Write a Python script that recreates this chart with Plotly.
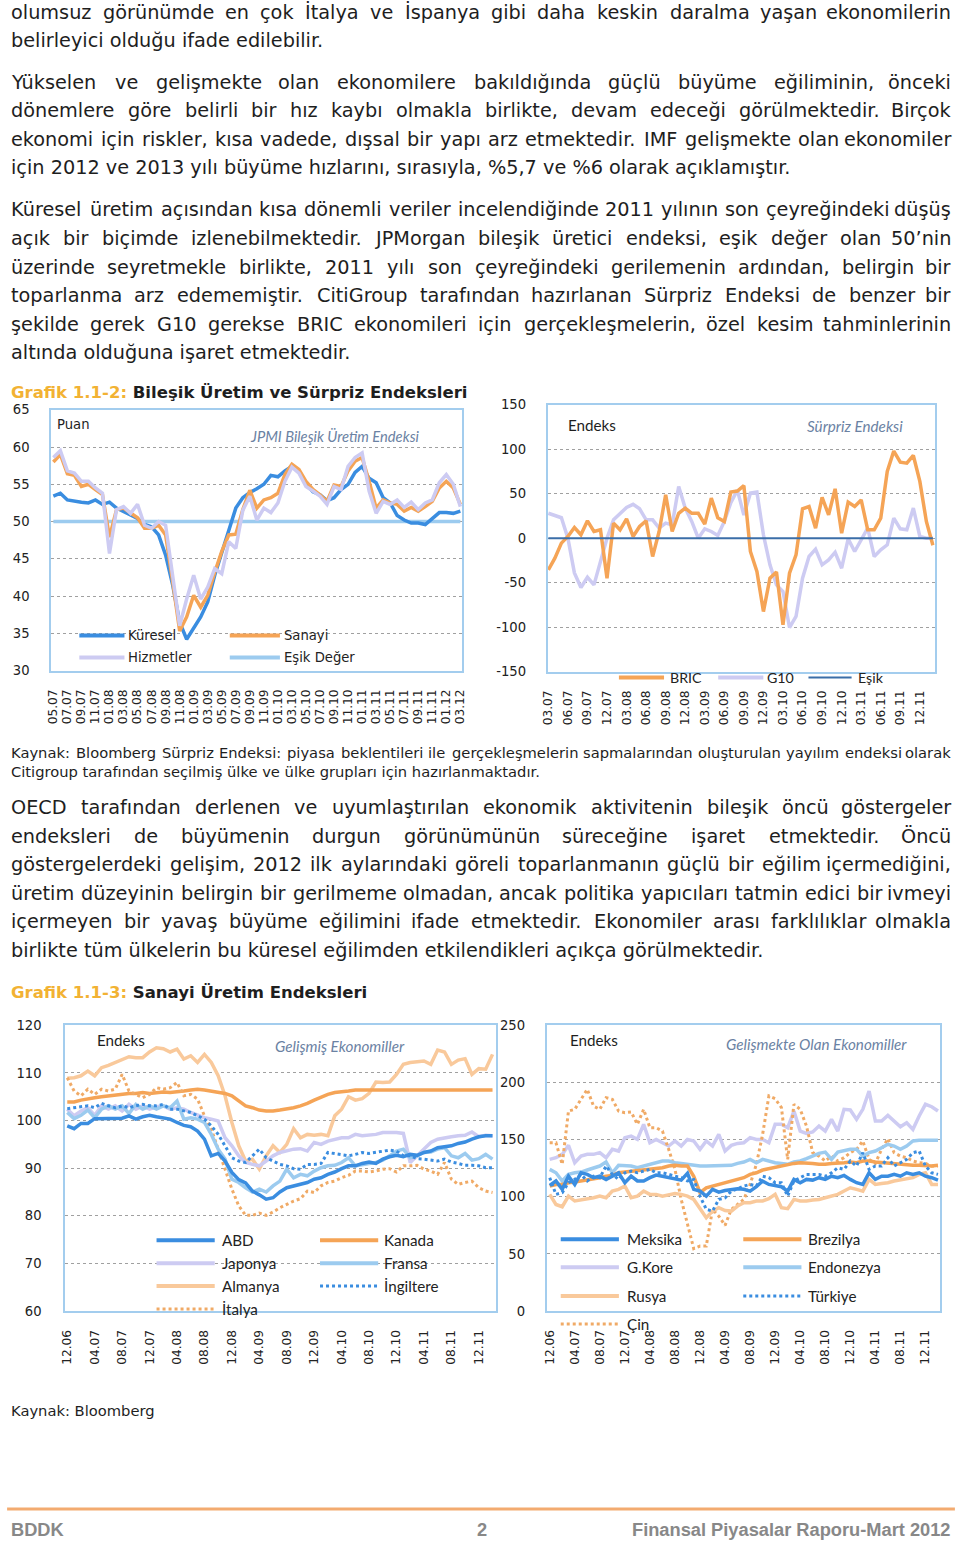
import plotly.graph_objects as go

W, H = 960, 1542
BODY = "DejaVu Sans"
CHART = "Lato"
TEXT_COLOR = "#1e1e1e"

# ---------------- text content ----------------
para1 = [
    "olumsuz görünümde en çok İtalya ve İspanya gibi daha keskin daralma yaşan ekonomilerin",
    "belirleyici olduğu ifade edilebilir.",
]
para2 = [
    "Yükselen ve gelişmekte olan ekonomilere bakıldığında güçlü büyüme eğiliminin, önceki",
    "dönemlere göre belirli bir hız kaybı olmakla birlikte, devam edeceği görülmektedir. Birçok",
    "ekonomi için riskler, kısa vadede, dışsal bir yapı arz etmektedir. IMF gelişmekte olan ekonomiler",
    "için 2012 ve 2013 yılı büyüme hızlarını, sırasıyla, %5,7 ve %6 olarak açıklamıştır.",
]
para3 = [
    "Küresel üretim açısından kısa dönemli veriler incelendiğinde 2011 yılının son çeyreğindeki düşüş",
    "açık bir biçimde izlenebilmektedir. JPMorgan bileşik üretici endeksi, eşik değer olan 50’nin",
    "üzerinde seyretmekle birlikte, 2011 yılı son çeyreğindeki gerilemenin ardından, belirgin bir",
    "toparlanma arz edememiştir. CitiGroup tarafından hazırlanan Sürpriz Endeksi de benzer bir",
    "şekilde gerek G10 gerekse BRIC ekonomileri için gerçekleşmelerin, özel kesim tahminlerinin",
    "altında olduğuna işaret etmektedir.",
]
caption1 = [
    "Kaynak: Bloomberg Sürpriz Endeksi: piyasa beklentileri ile gerçekleşmelerin sapmalarından oluşturulan yayılım endeksi olarak",
    "Citigroup tarafından seçilmiş ülke ve ülke grupları için hazırlanmaktadır.",
]
para4 = [
    "OECD tarafından derlenen ve uyumlaştırılan ekonomik aktivitenin bileşik öncü göstergeler",
    "endeksleri de büyümenin durgun görünümünün süreceğine işaret etmektedir. Öncü",
    "göstergelerdeki gelişim, 2012 ilk aylarındaki göreli toparlanmanın güçlü bir eğilim içermediğini,",
    "üretim düzeyinin belirgin bir gerilmeme olmadan, ancak politika yapıcıları tatmin edici bir ivmeyi",
    "içermeyen bir yavaş büyüme eğilimini ifade etmektedir. Ekonomiler arası farklılıklar olmakla",
    "birlikte tüm ülkelerin bu küresel eğilimden etkilendikleri açıkça görülmektedir.",
]
title1_a, title1_b = "Grafik 1.1-2:", "Bileşik Üretim ve Sürpriz Endeksleri"
title2_a, title2_b = "Grafik 1.1-3:", "Sanayi Üretim Endeksleri"
source2 = "Kaynak: Bloomberg"
footer_left, footer_mid, footer_right = "BDDK", "2", "Finansal Piyasalar Raporu-Mart 2012"

# ---------------- chart 1: JPMI composite ----------------
c1_ticks = ["05.07", "07.07", "09.07", "11.07", "01.08", "03.08", "05.08", "07.08", "09.08", "11.08",
            "01.09", "03.09", "05.09", "07.09", "09.09", "11.09", "01.10", "03.10", "05.10", "07.10",
            "09.10", "11.10", "01.11", "03.11", "05.11", "07.11", "09.11", "11.11", "01.12", "03.12"]
c1_kuresel = [53.4, 53.8, 52.9, 52.7, 52.6, 52.5, 52.9, 52.3, 52.6, 51.8,
              51.3, 50.8, 50.4, 49.6, 49.3, 48.2, 45.5, 41.5, 36.5, 34.2,
              35.6, 37.2, 39.2, 42.8, 45.8, 48.8, 51.8, 53.2, 53.9, 54.4,
              55.0, 56.2, 56.0, 56.8, 57.4, 56.8, 55.0, 54.0, 53.6, 52.8,
              53.2, 54.3, 55.0, 56.6, 57.4, 55.8, 55.2, 53.2, 52.5, 50.8,
              50.2, 49.8, 49.8, 49.6, 50.4, 51.2, 51.2, 51.1, 51.4]
c1_sanayi = [58.0, 59.0, 56.4, 56.2, 54.7, 55.0, 54.3, 53.6, 47.9, 51.6,
             51.8, 51.1, 50.5, 49.1, 49.1, 49.5, 48.2, 42.0, 35.3, 37.2,
             40.1, 38.5, 40.1, 43.2, 46.0, 48.2, 48.3, 51.6, 54.2, 51.8,
             52.9, 53.2, 53.8, 56.3, 57.7, 57.0, 55.4, 54.3, 53.6, 52.7,
             54.9, 54.7, 56.8, 58.1, 58.6, 55.4, 51.8, 52.9, 52.5, 52.3,
             51.4, 51.9, 51.4, 52.0, 52.7, 54.5, 55.4, 54.5, 52.3]
c1_hizmetler = [58.6, 59.5, 56.8, 56.5, 55.4, 55.4, 54.5, 53.8, 45.7, 51.6,
                52.0, 51.1, 52.3, 49.5, 49.1, 50.0, 49.5, 42.3, 36.0, 39.6,
                42.8, 39.6, 41.2, 43.7, 43.0, 47.3, 46.4, 51.5, 53.4, 50.2,
                51.8, 51.2, 52.5, 55.4, 57.3, 56.5, 54.7, 54.1, 53.4, 52.3,
                54.7, 54.3, 57.4, 58.6, 59.2, 54.1, 51.1, 52.7, 52.3, 52.9,
                51.9, 52.6, 51.6, 52.5, 52.9, 55.2, 56.3, 55.0, 52.0]
c1_esik = 50

# ---------------- chart 2: Citi surprise ----------------
c2_ticks = ["03.07", "06.07", "09.07", "12.07", "03.08", "06.08", "09.08", "12.08", "03.09", "06.09",
            "09.09", "12.09", "03.10", "06.10", "09.10", "12.10", "03.11", "06.11", "09.11", "12.11"]
c2_yticks = [-150, -100, -50, 0, 50, 100, 150]
c2_bric = [-35.6, -22.5, -5.6, 1.9, 12.0, 3.8, 19.5, 7.5, 9.4, -45.0,
           16.9, 9.4, 21.8, 1.9, 13.1, 19.5, -20.6, 7.5, 48.8, 7.5,
           28.0, 33.8, 28.0, 28.0, 15.8, 45.0, 23.0, 18.8, 51.8, 53.0,
           59.0, -15.0, -37.5, -82.5, -45.0, -38.0, -97.5, -39.4, -18.8, 33.0,
           35.6, 11.3, 45.8, 26.3, 55.5, 5.6, 40.5, 35.6, 43.0, 9.4,
           9.4, 22.5, 75.0, 98.0, 85.5, 84.4, 93.0, 63.8, 18.8, -8.0]
c2_g10 = [28.0, 25.5, 23.0, 0.0, -39.0, -55.5, -44.0, -52.5, -26.0, 0.0,
          20.6, 27.0, 34.5, 38.0, 33.0, 20.6, 20.6, 11.3, 17.0, 15.0,
          58.0, 33.8, 18.8, 0.0, 10.5, 7.5, 3.0, 18.8, 40.0, 54.0,
          26.0, 50.6, 51.8, 3.8, -30.0, -52.5, -60.0, -100.5, -88.0, -45.0,
          -20.6, -12.4, -30.0, -24.4, -15.8, -33.8, -0.8, -15.0, -1.9, 11.3,
          -20.6, -13.0, -7.5, 22.5, 10.5, 9.4, 33.8, 1.9, 0.0, 0.0]
c2_esik = 0

# ---------------- chart 3 & 4: industrial production ----------------
c34_ticks = ["12.06", "04.07", "08.07", "12.07", "04.08", "08.08", "12.08", "04.09", "08.09", "12.09",
             "04.10", "08.10", "12.10", "04.11", "08.11", "12.11"]
c3_abd = [98.9, 98.3, 99.4, 99.4, 100.4, 100.4, 100.4, 100.4, 100.5, 101.0,
          100.3, 100.8, 101.1, 100.8, 100.6, 100.3, 99.6, 99.0, 98.7, 97.8,
          96.1, 92.6, 93.1, 91.5, 89.1, 87.6, 86.9, 85.2, 84.4, 83.5,
          83.8, 85.0, 85.9, 86.3, 86.6, 87.0, 87.7, 88.0, 88.7, 89.2,
          89.9, 90.5, 90.5, 91.0, 91.3, 91.0, 91.9, 92.4, 92.7, 92.4,
          92.9, 92.7, 93.3, 93.6, 94.3, 94.5, 94.7, 95.2, 95.5, 96.1,
          96.6, 96.8, 96.8]
c3_japonya = [102.4, 101.0, 102.0, 102.7, 101.1, 103.1, 102.4, 103.1, 102.0, 103.4,
              102.4, 103.1, 102.4, 102.9, 103.1, 102.4, 102.7, 102.4, 101.7, 101.1,
              100.6, 100.3, 99.9, 96.4, 94.7, 92.6, 91.2, 90.8, 90.5, 91.5,
              92.6, 93.3, 93.6, 94.0, 94.1, 93.6, 95.4, 95.0, 95.7, 96.1,
              96.4, 96.4, 97.1, 96.8, 96.9, 97.1, 97.5, 97.5, 97.5, 97.3,
              91.2, 92.6, 94.0, 95.4, 96.1, 96.4, 96.6, 96.8, 96.9, 97.6,
              96.6, 96.9, 96.8]
c3_almanya = [108.9, 109.0, 109.4, 110.4, 109.4, 111.1, 111.6, 112.2, 112.7, 113.4,
              113.2, 113.2, 114.4, 115.3, 115.1, 114.4, 115.0, 112.9, 113.6, 112.2,
              113.9, 112.2, 109.4, 105.2, 99.6, 94.7, 91.5, 91.9, 89.8, 92.6,
              94.7, 93.3, 95.0, 98.3, 96.4, 97.1, 96.9, 97.1, 96.8, 101.0,
              102.4, 105.0, 104.3, 104.6, 105.7, 108.1, 108.0, 108.1, 109.7, 111.8,
              112.2, 112.3, 112.5, 111.8, 114.8, 114.4, 111.8, 112.7, 113.0, 109.7,
              110.9, 110.8, 113.9]
c3_italya = [109.0, 106.2, 105.2, 106.6, 105.5, 106.6, 106.2, 106.6, 109.7, 106.2,
             105.5, 104.8, 105.5, 106.9, 106.6, 106.9, 108.0, 105.2, 105.5, 104.5,
             101.0, 98.2, 94.0, 89.8, 85.6, 82.1, 80.1, 80.1, 80.6, 80.1,
             80.8, 81.7, 82.4, 83.1, 83.6, 85.2, 84.9, 86.3, 87.0, 87.3,
             88.0, 88.5, 89.4, 89.4, 89.2, 89.4, 89.8, 89.9, 89.2, 90.5,
             90.5, 90.6, 89.8, 89.4, 88.7, 91.2, 87.7, 86.6, 87.0, 87.3,
             85.9, 85.2, 84.9]
c3_kanada = [103.9, 103.9, 104.3, 104.6, 104.8, 105.0, 105.2, 105.3, 105.5, 105.7,
             105.7, 105.9, 105.7, 105.9, 106.0, 105.9, 106.0, 106.2, 106.4, 106.6,
             106.4, 106.2, 106.0, 105.7, 105.2, 104.1, 103.1, 102.7, 102.2, 102.0,
             102.0, 102.2, 102.4, 102.7, 103.1, 103.6, 104.3, 105.0, 105.5, 105.9,
             106.0, 106.2, 106.4, 106.4, 106.4, 106.4, 106.4, 106.4, 106.4, 106.4,
             106.4, 106.4, 106.4, 106.4, 106.4, 106.4, 106.4, 106.4, 106.4, 106.4,
             106.4, 106.4, 106.4]
c3_fransa = [101.7, 100.4, 101.1, 102.2, 100.6, 102.4, 103.1, 102.4, 103.1, 101.5,
             103.4, 102.4, 103.1, 102.4, 103.1, 102.7, 104.1, 100.3, 100.6, 100.3,
             99.6, 97.1, 94.0, 91.9, 87.7, 87.0, 85.9, 85.0, 85.6, 85.0,
             86.3, 87.3, 89.8, 88.0, 88.7, 88.4, 89.4, 90.1, 90.5, 90.6,
             91.2, 92.2, 90.5, 90.8, 91.0, 91.2, 91.7, 92.6, 93.6, 94.0,
             92.2, 92.6, 93.3, 93.4, 94.0, 94.3, 92.6, 92.2, 93.1, 91.7,
             92.0, 92.9, 91.9]
c3_ingiltere = [102.5, 102.7, 102.9, 103.1, 102.7, 103.6, 103.1, 102.7, 103.1, 102.7,
                103.1, 103.4, 103.1, 103.1, 103.4, 102.4, 102.4, 102.0, 101.7, 101.0,
                100.3, 98.9, 97.1, 94.7, 92.2, 91.5, 91.2, 92.6, 94.0, 92.2,
                91.5, 90.8, 90.5, 89.9, 89.8, 90.8, 90.8, 91.0, 93.3, 93.1,
                92.9, 92.6, 92.9, 93.3, 93.1, 93.3, 93.6, 93.8, 93.6, 92.6,
                92.6, 92.0, 91.9, 91.7, 91.5, 91.9, 91.3, 91.0, 90.6, 90.6,
                90.5, 90.1, 90.1]

c4_meksika = [110.0, 113.8, 106.5, 118.0, 110.8, 121.0, 119.6, 116.7, 118.0, 115.2,
              118.0, 121.0, 112.3, 118.0, 113.8, 113.8, 116.7, 119.0, 118.0, 116.7,
              115.2, 114.6, 120.5, 106.5, 105.0, 100.6, 106.5, 104.1, 105.5, 106.5,
              107.0, 106.5, 105.0, 108.8, 113.8, 110.8, 110.0, 108.8, 105.0, 115.2,
              112.3, 115.2, 114.6, 116.7, 115.2, 118.0, 116.7, 118.7, 115.2, 112.3,
              110.8, 121.0, 115.2, 118.0, 118.0, 119.6, 118.0, 121.0, 119.6, 121.0,
              118.0, 116.7, 114.6]
c4_gkore = [132.7, 134.2, 137.1, 145.0, 129.8, 135.6, 137.1, 137.1, 138.6, 134.2,
            141.5, 140.0, 151.7, 153.1, 150.2, 163.4, 147.3, 150.2, 147.3, 144.4,
            148.8, 144.4, 150.2, 148.8, 141.5, 148.8, 144.4, 154.6, 140.0, 145.0,
            146.7, 147.3, 151.7, 150.2, 150.2, 147.3, 163.4, 163.4, 160.4, 175.0,
            157.5, 155.5, 156.7, 161.9, 157.5, 167.7, 157.5, 176.5, 175.9, 167.7,
            176.5, 192.5, 166.3, 166.3, 171.2, 166.3, 161.3, 164.8, 159.0, 170.7,
            180.9, 178.8, 175.0]
c4_rusya = [102.1, 93.3, 91.3, 100.6, 96.3, 97.1, 97.7, 99.2, 100.6, 99.2,
            105.0, 106.5, 109.4, 99.2, 100.6, 105.0, 102.1, 102.1, 100.6, 102.1,
            102.9, 102.1, 100.6, 97.7, 89.0, 81.7, 87.5, 90.4, 88.0, 87.5,
            91.9, 94.8, 94.8, 96.3, 96.3, 98.3, 102.1, 90.4, 89.6, 97.7,
            96.3, 96.3, 97.1, 97.7, 99.2, 100.6, 102.1, 105.0, 107.9, 106.5,
            105.0, 115.2, 110.8, 111.7, 112.3, 113.8, 114.6, 115.2, 116.7, 119.6,
            121.0, 110.8, 110.8]
c4_cin = [147.3, 147.3, 128.4, 175.0, 176.5, 185.2, 194.0, 179.4, 176.5, 186.7,
          185.2, 175.0, 173.6, 174.2, 163.4, 176.5, 160.4, 160.4, 157.5, 141.5,
          124.0, 97.7, 77.3, 54.6, 56.9, 56.9, 88.9, 83.1, 75.0, 89.0,
          93.3, 97.7, 110.8, 128.4, 154.6, 188.2, 185.8, 178.0, 132.7, 180.9,
          176.5, 161.9, 138.6, 135.6, 131.3, 135.6, 131.3, 134.2, 138.6, 141.5,
          148.8, 132.7, 129.2, 141.5, 150.8, 138.6, 135.6, 134.2, 131.3, 129.8,
          129.2, 126.9, 126.9]
c4_brezilya = [109.4, 110.8, 110.8, 112.3, 112.9, 113.8, 114.6, 115.2, 116.7, 118.0,
               118.7, 121.0, 121.6, 122.5, 123.4, 124.0, 124.6, 124.6, 125.4, 126.9,
               127.5, 126.9, 126.9, 118.0, 103.6, 107.9, 109.4, 110.8, 112.6, 113.8,
               115.2, 116.7, 119.6, 121.0, 123.4, 124.6, 125.4, 126.9, 127.5, 129.2,
               129.8, 129.8, 129.2, 128.4, 128.4, 129.2, 129.2, 129.8, 130.4, 129.8,
               131.3, 131.3, 130.4, 129.8, 129.8, 129.2, 128.4, 127.5, 127.5, 127.5,
               126.9, 126.9, 127.5]
c4_endonezya = [124.0, 121.0, 113.8, 119.6, 121.0, 121.6, 123.4, 125.4, 126.9, 130.4,
                121.0, 127.5, 127.5, 126.9, 125.4, 126.9, 128.4, 129.2, 131.3, 131.3,
                129.8, 129.2, 128.4, 127.5, 126.9, 126.9, 126.9, 127.5, 127.6, 127.5,
                129.2, 130.4, 132.7, 129.8, 132.7, 131.3, 129.8, 129.2, 128.4, 130.4,
                131.3, 133.3, 135.6, 138.0, 139.1, 132.7, 139.1, 140.0, 141.5, 141.5,
                135.6, 138.6, 140.0, 142.9, 145.9, 144.4, 141.5, 144.4, 148.8, 149.4,
                149.4, 149.4, 149.4]
c4_turkiye = [116.7, 102.1, 103.6, 112.3, 115.2, 119.6, 113.8, 118.0, 116.7, 126.9,
              119.6, 115.2, 121.0, 122.5, 121.0, 122.5, 124.0, 121.0, 121.0, 119.6,
              118.0, 116.7, 113.8, 115.2, 100.6, 89.0, 87.5, 97.7, 99.0, 105.0,
              107.0, 109.4, 110.8, 109.4, 118.0, 116.7, 112.3, 112.3, 100.6, 113.8,
              116.7, 119.6, 119.6, 119.6, 118.0, 121.0, 125.4, 124.0, 131.3, 126.9,
              138.6, 124.0, 126.9, 126.9, 134.2, 126.9, 129.8, 132.7, 138.6, 140.0,
              126.9, 121.0, 119.6]

# ---------------- colours ----------------
BLUE = "#3a8de0"
ORANGE = "#f5a456"
LAV = "#cdcbf2"
LBLUE = "#9ccbef"
PEACH = "#f9c99b"
DOTOR = "#f0aa66"
DARKB = "#3b6ea8"
BORDER = "#a3cdee"
GRID = "#a0a0a0"
GOLD = "#f2b233"
NOTE = "#6b82a3"

# layout coordinates below are given in target-picture pixels; the capture adds a thin
# frame around the page, so positions are mapped into figure space here.
PAD = 7
SX = W / (W + 2 * PAD)
SY = H / (H + 2 * PAD)
FS = 1 / SX


def fx(x):
    return x / SX - PAD


def fy(y):
    return y / SY - PAD


def px(x):
    return fx(x) / W


def py(y):
    return 1 - fy(y) / H


def month_cats(mm, yy, n):
    out = []
    for _ in range(n):
        out.append(f"{mm:02d}.{yy:02d}")
        mm += 1
        if mm > 12:
            mm, yy = 1, yy + 1
    return out


c1_months = month_cats(5, 7, len(c1_kuresel))
c2_months = month_cats(3, 7, len(c2_bric))
c34_months = month_cats(12, 6, len(c3_abd))

fig = go.Figure()


def line(ax, x, y, color, width=3.5, dash="solid", name=None):
    fig.add_trace(go.Scatter(x=x, y=y, mode="lines", name=name,
                             line=dict(color=color, width=width, dash=dash),
                             xaxis="x" + ax, yaxis="y" + ax, hoverinfo="skip"))


# chart 1
line("", [c1_months[0], c1_months[-1]], [c1_esik, c1_esik], LBLUE, name="Eşik Değer")
line("", c1_months, c1_kuresel, BLUE, name="Küresel")
line("", c1_months, c1_sanayi, ORANGE, name="Sanayi")
line("", c1_months, c1_hizmetler, LAV, name="Hizmetler")
# chart 2
line("2", c2_months, c2_g10, LAV, name="G10")
line("2", c2_months, c2_bric, ORANGE, name="BRIC")
line("2", [c2_months[0], c2_months[-1]], [c2_esik, c2_esik], DARKB, width=2, name="Eşik")
# chart 3
line("3", c34_months, c3_almanya, PEACH, name="Almanya")
line("3", c34_months, c3_kanada, ORANGE, name="Kanada")
line("3", c34_months, c3_italya, DOTOR, width=3, dash="dot", name="İtalya")
line("3", c34_months, c3_japonya, LAV, name="Japonya")
line("3", c34_months, c3_fransa, LBLUE, name="Fransa")
line("3", c34_months, c3_ingiltere, BLUE, width=3, dash="dot", name="İngiltere")
line("3", c34_months, c3_abd, BLUE, name="ABD")
# chart 4
line("4", c34_months, c4_gkore, LAV, name="G.Kore")
line("4", c34_months, c4_cin, DOTOR, width=3, dash="dot", name="Çin")
line("4", c34_months, c4_endonezya, LBLUE, name="Endonezya")
line("4", c34_months, c4_rusya, PEACH, name="Rusya")
line("4", c34_months, c4_brezilya, ORANGE, name="Brezilya")
line("4", c34_months, c4_turkiye, BLUE, width=3, dash="dot", name="Türkiye")
line("4", c34_months, c4_meksika, BLUE, name="Meksika")

TICKFONT = dict(family=BODY, size=12 * FS, color="#222222")


def xax(dom, cats, rng, ticks, anchor):
    return dict(domain=[px(dom[0]), px(dom[1])], anchor=anchor, type="category",
                categoryorder="array", categoryarray=cats, range=rng,
                tickmode="array", tickvals=ticks, tickangle=-90, ticks="",
                tickfont=TICKFONT, ticklabelstandoff=12,
                showline=True, mirror=True, linecolor=BORDER, linewidth=2,
                showgrid=False, zeroline=False)


def yax(dom, rng, dtick, anchor, standoff, ticktext=None):
    d = dict(domain=[py(dom[1]), py(dom[0])], anchor=anchor, range=rng,
             ticks="", tickfont=dict(family=BODY, size=13 * FS, color="#222222"),
             ticklabelstandoff=standoff,
             showline=True, mirror=True, linecolor=BORDER, linewidth=2,
             showgrid=True, gridcolor=GRID, gridwidth=1, griddash="dot",
             zeroline=False)
    if ticktext is None:
        d.update(tick0=rng[0], dtick=dtick)
    else:
        d.update(tickmode="array", tickvals=ticktext, ticktext=[str(v) for v in ticktext])
    return d


# ---------------- annotations ----------------
ann = []
shp = []

DV = {' ': 651, '!': 821, '%': 1946, "'": 563, '’': 563, '(': 799, ')': 799, ',': 651, '-': 739,
      '.': 651, '/': 690, ':': 690, ';': 690, '?': 1087,
      'A': 1401, 'B': 1405, 'C': 1430, 'D': 1577, 'E': 1294, 'F': 1178, 'G': 1587, 'H': 1540,
      'I': 604, 'J': 604, 'K': 1343, 'L': 1141, 'M': 1767, 'N': 1532, 'O': 1612, 'P': 1235,
      'Q': 1612, 'R': 1423, 'S': 1300, 'T': 1251, 'U': 1499, 'V': 1401, 'W': 2025, 'X': 1403,
      'Y': 1251, 'Z': 1403,
      'a': 1255, 'b': 1300, 'c': 1126, 'd': 1300, 'e': 1260, 'f': 721, 'g': 1300, 'h': 1298,
      'i': 569, 'j': 569, 'k': 1186, 'l': 569, 'm': 1995, 'n': 1298, 'o': 1253, 'p': 1300,
      'q': 1300, 'r': 842, 's': 1067, 't': 803, 'u': 1298, 'v': 1212, 'w': 1675, 'x': 1212,
      'y': 1212, 'z': 1075}
TR = {'ğ': 'g', 'ü': 'u', 'ş': 's', 'ı': 'i', 'ç': 'c', 'ö': 'o', 'İ': 'I', 'Ü': 'U',
      'Ö': 'O', 'Ş': 'S', 'Ç': 'C', 'Ğ': 'G'}


def em_width(s):
    tot = 0
    for ch in s:
        ch = TR.get(ch, ch)
        tot += 1303 if ch.isdigit() else DV.get(ch, 1200)
    return tot / 2048


def text(x, y, s, size, color=TEXT_COLOR, family=BODY, anchor="left"):
    ann.append(dict(x=px(x), y=py(y), xref="paper", yref="paper", text=s, showarrow=False,
                    xanchor=anchor, yanchor="middle", borderpad=0,
                    font=dict(family=family, size=size * FS, color=color)))


X0, X1 = 11, 950


def justify(line_s, y, size):
    words = line_s.split()
    widths = [em_width(w) * size for w in words]
    gap = (X1 - X0 - sum(widths)) / (len(words) - 1)
    x = X0
    for i, (w, wd) in enumerate(zip(words, widths)):
        if i == len(words) - 1:
            text(X1, y, w, size, anchor="right")
        else:
            text(x, y, w, size)
        x += wd + gap


def paragraph(lines, y0, dy, size):
    for i, ln in enumerate(lines):
        if i == len(lines) - 1:
            text(X0, y0 + i * dy, ln, size)
        else:
            justify(ln, y0 + i * dy, size)


just_lines = para1[:-1] + para2[:-1] + para3[:-1] + para4[:-1]
max_em = max(em_width(l) for l in just_lines)
BODY_SIZE = min(19.0, (X1 - X0) / max_em * 0.995)
cap_em = em_width(caption1[0])
CAP_SIZE = min(14.5, (X1 - X0) / cap_em * 0.995)

paragraph(para1, 12, 28.6, BODY_SIZE)
paragraph(para2, 82, 28.6, BODY_SIZE)
paragraph(para3, 210, 28.6, BODY_SIZE)
paragraph(caption1, 753, 19.5, CAP_SIZE)
paragraph(para4, 808, 28.6, BODY_SIZE)
text(X0, 1411, source2, CAP_SIZE)

text(X0, 393, f"<b><span style='color:{GOLD}'>{title1_a}</span> {title1_b}</b>", 16.3)
text(X0, 993, f"<b><span style='color:{GOLD}'>{title2_a}</span> {title2_b}</b>", 16.3)

# chart inner labels
text(57, 425, "Puan", 13)
text(335, 436, "<i>JPMI Bileşik Üretim Endeksi</i>", 14.5, color=NOTE, family=CHART, anchor="center")
text(566, 425, "Endeks", 15, family=CHART)
text(853, 426, "<i>Sürpriz Endeksi</i>", 15, color=NOTE, family=CHART, anchor="center")
text(97, 1041, "Endeks", 15, family=CHART)
text(340, 1047, "<i>Gelişmiş Ekonomiller</i>", 15, color=NOTE, family=CHART, anchor="center")
text(568, 1041, "Endeks", 15, family=CHART)
text(815, 1045, "<i>Gelişmekte Olan Ekonomiller</i>", 15, color=NOTE, family=CHART, anchor="center")


def legend_item(x0, x1, y, color, label, tx, size, family, dash="solid", width=4):
    shp.append(dict(type="line", xref="paper", yref="paper", x0=px(x0), x1=px(x1),
                    y0=py(y), y1=py(y), line=dict(color=color, width=width, dash=dash)))
    text(tx, y, label, size, color="#222222", family=family)


legend_item(80, 125, 636, BLUE, "Küresel", 128, 13, BODY)
legend_item(80, 125, 658, LAV, "Hizmetler", 128, 13, BODY)
legend_item(230, 280, 636, ORANGE, "Sanayi", 283, 13, BODY)
legend_item(230, 280, 658, LBLUE, "Eşik Değer", 283, 13, BODY)

legend_item(618, 663, 678, ORANGE, "BRIC", 668, 14, CHART)
legend_item(717, 762, 678, LAV, "G10", 765, 14, CHART)
legend_item(807, 850, 678, DARKB, "Eşik", 855, 14, CHART, width=2)

legend_item(157, 215, 1241, BLUE, "ABD", 221, 15, CHART)
legend_item(157, 215, 1264, LAV, "Japonya", 221, 15, CHART)
legend_item(157, 215, 1287, PEACH, "Almanya", 221, 15, CHART)
legend_item(157, 215, 1310, DOTOR, "İtalya", 221, 15, CHART, dash="dot", width=3)
legend_item(320, 378, 1241, ORANGE, "Kanada", 383, 15, CHART)
legend_item(320, 378, 1264, LBLUE, "Fransa", 383, 15, CHART)
legend_item(320, 378, 1287, BLUE, "İngiltere", 383, 15, CHART, dash="dot", width=3)

legend_item(560, 618, 1240, BLUE, "Meksika", 625, 15, CHART)
legend_item(560, 618, 1268, LAV, "G.Kore", 625, 15, CHART)
legend_item(560, 618, 1297, PEACH, "Rusya", 625, 15, CHART)
legend_item(560, 618, 1325, DOTOR, "Çin", 625, 15, CHART, dash="dot", width=3)
legend_item(742, 800, 1240, ORANGE, "Brezilya", 806, 15, CHART)
legend_item(742, 800, 1268, LBLUE, "Endonezya", 806, 15, CHART)
legend_item(742, 800, 1297, BLUE, "Türkiye", 806, 15, CHART, dash="dot", width=3)

# footer
shp.append(dict(type="line", xref="paper", yref="paper", x0=px(8), x1=px(953), y0=py(1510),
                y1=py(1510), line=dict(color="#f3ab70", width=3)))
FOOT = "Liberation Sans"
FOOT_COLOR = "#888888"
text(11, 1531, f"<b>{footer_left}</b>", 18, color=FOOT_COLOR, family=FOOT)
text(481, 1531, f"<b>{footer_mid}</b>", 18, color=FOOT_COLOR, family=FOOT, anchor="center")
text(950, 1531, f"<b>{footer_right}</b>", 18, color=FOOT_COLOR, family=FOOT, anchor="right")

fig.update_layout(
    width=W, height=H, margin=dict(l=0, r=0, t=0, b=0),
    paper_bgcolor="white", plot_bgcolor="white", showlegend=False,
    xaxis=xax((52, 462), c1_months, [-0.3, 58.3], c1_ticks, "y"),
    yaxis=yax((410, 671), [30, 65], 5, "x", 17),
    xaxis2=xax((547, 933), c2_months, [-0.1, 59.3], c2_ticks, "y2"),
    yaxis2=yax((405, 672), [-150, 150], 50, "x2", 17, ticktext=c2_yticks),
    xaxis3=xax((66, 495), c34_months, [-0.29, 62.44], c34_ticks, "y3"),
    yaxis3=yax((1026, 1312), [60, 120], 10, "x3", 19),
    xaxis4=xax((546, 938), c34_months, [-0.48, 62.3], c34_ticks, "y4"),
    yaxis4=yax((1026, 1312), [0, 250], 50, "x4", 17),
    annotations=ann, shapes=shp,
)

# the page body's default 8px margin would push the 960x1542 figure out of the window
fig.write_html("out.html", config={"displayModeBar": False},
               post_script="document.body.style.margin='0px';")
